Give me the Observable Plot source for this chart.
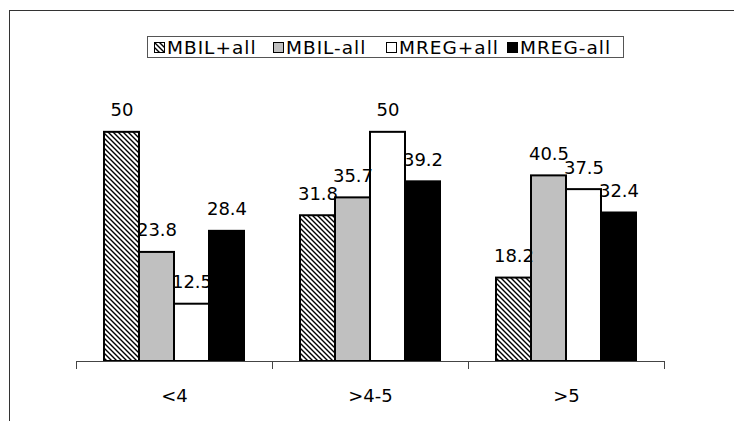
<!DOCTYPE html>
<html>
<head>
<meta charset="utf-8">
<script src="https://cdn.jsdelivr.net/npm/d3@7"></script>
<script src="https://cdn.jsdelivr.net/npm/@observablehq/plot@0.6"></script>
<style>
  html, body { margin: 0; padding: 0; background: #fff; }
  #wrap { position: relative; width: 734px; height: 421px; overflow: hidden; background: #fff; }
  #border { position: absolute; left: 9px; top: 10px; width: 900px; height: 600px;
            border-top: 1px solid #333; border-left: 1px solid #333; }
  #chart { position: absolute; left: 0; top: 0; }
  #legend { position: absolute; left: 147px; top: 36px; width: 475px; height: 20px;
            border: 1px solid #555; background: #fff; }
  .item { position: absolute; top: 0; height: 20px; display: flex; align-items: center;
          font-family: "DejaVu Sans", sans-serif; font-size: 18.5px; letter-spacing: 1px;
          color: #000; white-space: nowrap; }
  .item svg { margin-right: 2px; display: block; }
</style>
</head>
<body>
<div id="wrap">
  <div id="border"></div>
  <div id="chart"></div>
  <div id="legend"></div>
</div>
<script>
// Age groups on the category axis
const categories = ["<4", ">4-5", ">5"];
// Series names, in legend order
const series = ["MBIL+all", "MBIL-all", "MREG+all", "MREG-all"];
// Values per series, one per age group
const mbilPlusAll = [50, 31.8, 18.2];
const mbilMinusAll = [23.8, 35.7, 40.5];
const mregPlusAll = [12.5, 50, 37.5];
const mregMinusAll = [28.4, 39.2, 32.4];

const valuesBySeries = [mbilPlusAll, mbilMinusAll, mregPlusAll, mregMinusAll];
const fills = ["url(#hatch)", "#c0c0c0", "#ffffff", "#000000"];

const rows = [];
categories.forEach((cat, i) => {
  series.forEach((s, j) => rows.push({cat, series: s, value: valuesBySeries[j][i]}));
});

const labelFont = "DejaVu Sans, sans-serif";

const chart = Plot.plot({
  width: 734,
  height: 421,
  marginLeft: 75,
  marginRight: 69,
  marginTop: 86,
  marginBottom: 60,
  style: {background: "transparent", overflow: "visible"},
  fx: {domain: categories, padding: 0},
  x: {domain: series, paddingInner: 0, paddingOuter: 0.74, axis: null},
  y: {domain: [0, 60], axis: null},
  color: {type: "ordinal", domain: series, range: fills},
  marks: [
    Plot.barY(rows, {fx: "cat", x: "series", y: "value", fill: "series",
                     stroke: "#000", strokeWidth: 2}),
    Plot.text(rows, {fx: "cat", x: "series", y: "value", text: d => String(d.value),
                     lineAnchor: "bottom", dy: -16, fontSize: 18, fontFamily: labelFont, fill: "#000"}),
    Plot.ruleY([0], {stroke: "#444", strokeWidth: 1}),
    Plot.frame({anchor: "left", stroke: "#444", strokeWidth: 1, insetTop: 275, insetBottom: -7}),
    Plot.frame({anchor: "right", stroke: "#444", strokeWidth: 1, insetTop: 275, insetBottom: -7}),
    Plot.axisFx({anchor: "bottom", tickSize: 0, tickPadding: 28, label: null,
                 fontSize: 18, fontFamily: labelFont})
  ]
});

// Diagonal hatch used by the first series
const svg = d3.select(chart);
const defs = svg.insert("defs", ":first-child");
const pat = defs.append("pattern")
  .attr("id", "hatch").attr("patternUnits", "userSpaceOnUse")
  .attr("width", 5).attr("height", 5);
pat.append("rect").attr("width", 5).attr("height", 5).attr("fill", "#fff");
pat.append("path").attr("d", "M-1,-1L6,6M-1,4L1,6M4,-1L6,1")
  .attr("stroke", "#000").attr("stroke-width", 1.4);

document.getElementById("chart").appendChild(chart);

// Legend: swatch + name for each series
const legendLeft = [6, 125, 238, 359];
const legend = d3.select("#legend");
series.forEach((s, j) => {
  const item = legend.append("div").attr("class", "item").style("left", legendLeft[j] + "px");
  const sw = item.append("svg").attr("width", 11).attr("height", 11);
  sw.append("rect").attr("x", 0.5).attr("y", 0.5).attr("width", 10).attr("height", 10)
    .attr("fill", fills[j]).attr("stroke", "#000").attr("stroke-width", 1);
  item.append("span").text(s);
});
</script>
</body>
</html>
